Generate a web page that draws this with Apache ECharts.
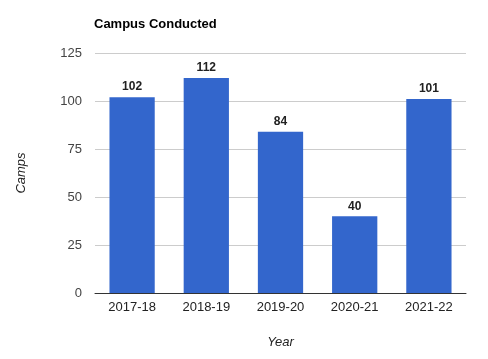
<!DOCTYPE html>
<html><head><meta charset="utf-8">
<script src="https://cdn.jsdelivr.net/npm/echarts@6/dist/echarts.min.js"></script>
<style>html,body{margin:0;padding:0;background:#fff}#c{width:488px;height:359px}</style>
</head><body><div id="c"></div>
<script>
const categories = ['2017-18','2018-19','2019-20','2020-21','2021-22'];
const camps = [102,112,84,40,101];
const yTicks = {min:0, max:125, interval:25};

const chart = echarts.init(document.getElementById('c'));
chart.setOption({
  animation:false,
  title:{text:'Campus Conducted', left:94, top:18, padding:0, textStyle:{fontFamily:'Liberation Sans, Arial', fontSize:13, fontWeight:'bold', color:'#000'}},
  grid:{left:95, right:22, top:53, bottom:66},
  xAxis:{type:'category', data:categories,
    name:'Year', nameLocation:'middle', nameGap:43,
    nameTextStyle:{fontFamily:'Liberation Sans, Arial', fontSize:13, fontStyle:'italic', color:'#222'},
    axisLine:{lineStyle:{color:'#333', width:1}}, axisTick:{show:false},
    axisLabel:{fontFamily:'Liberation Sans, Arial', fontSize:13, color:'#222', margin:8}},
  yAxis:{type:'value', min:yTicks.min, max:yTicks.max, interval:yTicks.interval,
    name:'Camps', nameLocation:'middle', nameGap:67, nameRotate:90,
    nameTextStyle:{fontFamily:'Liberation Sans, Arial', fontSize:13, fontStyle:'italic', color:'#222'},
    axisLine:{show:false}, axisTick:{show:false},
    splitLine:{lineStyle:{color:'#ccc'}},
    axisLabel:{fontFamily:'Liberation Sans, Arial', fontSize:13, color:'#444', margin:13}},
  series:[{type:'bar', data:camps, barWidth:'61%', itemStyle:{color:'#3366cc'},
    label:{show:true, position:'top', distance:4, fontFamily:'Liberation Sans, Arial', fontSize:12, fontWeight:'bold', color:'#222'}}]
});
</script></body></html>
